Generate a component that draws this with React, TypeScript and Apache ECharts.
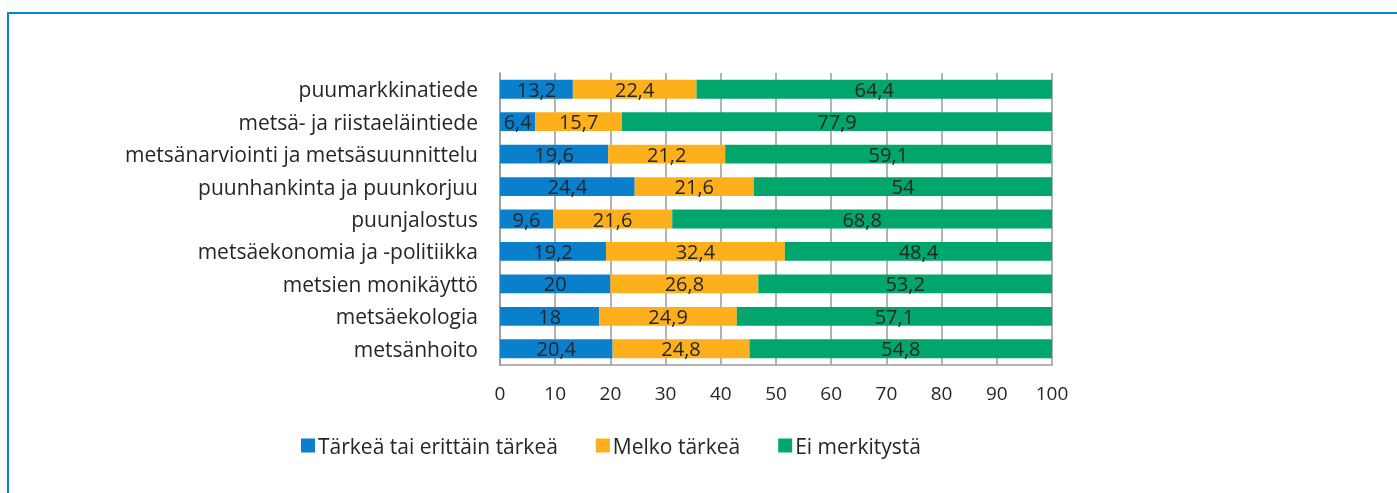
import React, { useEffect, useRef } from "react";
import * as echarts from "echarts";

const categories = [
  "puumarkkinatiede",
  "metsä- ja riistaeläintiede",
  "metsänarviointi ja metsäsuunnittelu",
  "puunhankinta ja puunkorjuu",
  "puunjalostus",
  "metsäekonomia ja -politiikka",
  "metsien monikäyttö",
  "metsäekologia",
  "metsänhoito",
];
const seriesNames = ["Tärkeä tai erittäin tärkeä", "Melko tärkeä", "Ei merkitystä"];
const important = [13.2, 6.4, 19.6, 24.4, 9.6, 19.2, 20, 18, 20.4];
const somewhat = [22.4, 15.7, 21.2, 21.6, 21.6, 32.4, 26.8, 24.9, 24.8];
const none = [64.4, 77.9, 59.1, 54, 68.8, 48.4, 53.2, 57.1, 54.8];
const colors = ["#0a80cc", "#fdb01c", "#00a66b"];

const FONT = "'Open Sans', sans-serif";

export default function App() {
  const ref = useRef<HTMLDivElement>(null);
  useEffect(() => {
    if (!ref.current) return;
    const chart = echarts.init(ref.current, null, { renderer: "svg" });
    const data = [important, somewhat, none];
    chart.setOption({
      animation: false,
      textStyle: { fontFamily: FONT },
      graphic: [
        {
          type: "rect",
          shape: { x: 8, y: 13, width: 1400, height: 500 },
          style: { fill: "none", stroke: "#0a84d0", lineWidth: 2 },
          silent: true,
        },
      ],
      grid: { left: 500, right: 345, top: 73, height: 292 },
      xAxis: {
        type: "value",
        min: 0,
        max: 100,
        interval: 10,
        axisLine: { show: true, lineStyle: { color: "#9a9a9a", width: 1.5 } },
        axisTick: { show: false },
        splitLine: { show: true, lineStyle: { color: "#9a9a9a", width: 1.5 } },
        axisLabel: { color: "#262626", fontSize: 19, fontFamily: FONT, margin: 18 },
      },
      yAxis: {
        type: "category",
        inverse: true,
        data: categories,
        axisLine: { show: true, lineStyle: { color: "#9a9a9a", width: 1.5 } },
        axisTick: { show: false },
        axisLabel: { color: "#262626", fontSize: 21, fontFamily: FONT, margin: 22 },
      },
      legend: {
        left: 296,
        top: 430,
        icon: "rect",
        itemWidth: 14,
        itemHeight: 14,
        itemGap: 38,
        textStyle: { color: "#262626", fontSize: 21, fontFamily: FONT, padding: [0, 0, 0, -2] },
        data: seriesNames,
      },
      series: seriesNames.map((name, i) => ({
        name,
        type: "bar",
        stack: "total",
        barWidth: "58%",
        itemStyle: { color: colors[i] },
        label: {
          show: true,
          position: "inside",
          color: "#262626",
          fontSize: 20,
          fontFamily: FONT,
          formatter: (p: any) => String(p.value).replace(".", ","),
        },
        data: data[i],
      })),
    });
    return () => chart.dispose();
  }, []);
  return <div ref={ref} style={{ position: "fixed", left: 0, top: 0, width: 1397, height: 493 }} />;
}
